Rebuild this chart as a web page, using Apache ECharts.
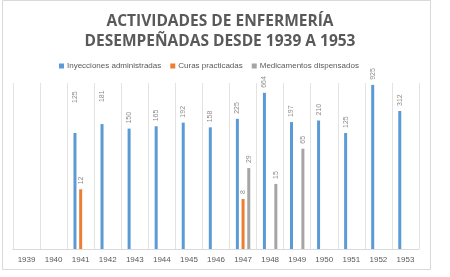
<!DOCTYPE html>
<html>
<head>
<meta charset="utf-8">
<script src="https://cdn.jsdelivr.net/npm/echarts@6/dist/echarts.min.js"></script>
<style>
  html, body { margin: 0; padding: 0; background: #fff; }
  #chart { width: 450px; height: 277px; }
</style>
</head>
<body>
<div id="chart"></div>
<script>
const years = ['1939', '1940', '1941', '1942', '1943', '1944', '1945', '1946', '1947', '1948', '1949', '1950', '1951', '1952', '1953']
const inyecciones = [null, null, 125, 181, 150, 165, 192, 158, 225, 664, 197, 210, 125, 925, 312]
const curas = [null, null, 12, null, null, null, null, null, 8, null, null, null, null, null, null]
const medicamentos = [null, null, null, null, null, null, null, null, 29, 15, 65, null, null, null, null]

// labels that were dragged higher in the original
const labelLift = {2: 30, 3: 22}

const labelStyle = {
    show: true,
    position: 'top',
    rotate: 90,
    align: 'left',
    verticalAlign: 'middle',
    distance: 5,
    color: '#8c8c8c',
    fontSize: 7,
    fontFamily: 'Liberation Sans'
}

const makeSeries = (name, values, color, lifts) => ({
    name: name,
    type: 'bar',
    barWidth: 3,
    barGap: '90%',
    itemStyle: {color: color},
    label: labelStyle,
    data: values.map((v, i) => {
        if (v === null) return '-'
        if (lifts && lifts[i]) return {value: v, label: {distance: lifts[i]}}
        return v
    })
})

const chart = echarts.init(document.getElementById('chart'), null, {renderer: 'canvas'})
chart.setOption({
    animation: false,
    title: {
        text: 'ACTIVIDADES DE ENFERMERÍA\nDESEMPEÑADAS DESDE 1939 A 1953',
        left: 215,
        textAlign: 'center',
        top: 7,
        textStyle: {
            color: '#595959',
            fontSize: 15.5,
            fontWeight: 'bold',
            fontFamily: 'Open Sans',
            lineHeight: 20
        }
    },
    legend: {
        top: 57,
        left: 54,
        itemWidth: 5,
        itemHeight: 5,
        itemGap: 9,
        icon: 'rect',
        textStyle: {color: '#595959', fontSize: 8, fontFamily: 'Liberation Sans', padding: [0, 0, 0, -2]},
        data: ['Inyecciones administradas', 'Curas practicadas', 'Medicamentos dispensados']
    },
    grid: {left: 13, right: 31, top: 83, bottom: 28},
    xAxis: {
        type: 'category',
        data: years,
        axisLine: {lineStyle: {color: '#d9d9d9'}},
        axisTick: {show: false},
        splitLine: {show: true, lineStyle: {color: '#e3e3e3'}},
        axisLabel: {color: '#595959', fontSize: 8, fontFamily: 'Liberation Sans', margin: 7}
    },
    yAxis: {
        type: 'log',
        logBase: 10,
        min: 1,
        max: 1000,
        show: false,
        splitLine: {show: false}
    },
    graphic: [{
        type: 'rect',
        shape: {x: 2.5, y: 0.5, width: 428, height: 269},
        style: {fill: 'none', stroke: '#d9d9d9', lineWidth: 1},
        silent: true
    }],
    series: [
        makeSeries('Inyecciones administradas', inyecciones, '#5b9bd5', labelLift),
        makeSeries('Curas practicadas', curas, '#ed7d31'),
        makeSeries('Medicamentos dispensados', medicamentos, '#a5a5a5')
    ]
})
</script>
</body>
</html>
